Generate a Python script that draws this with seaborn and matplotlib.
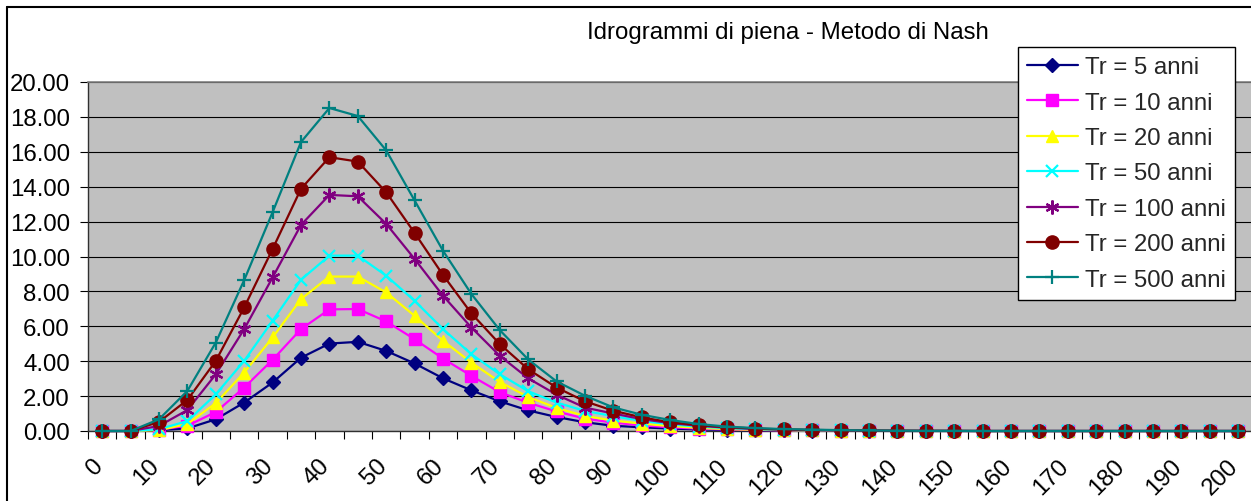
import matplotlib
matplotlib.use("Agg")
import matplotlib.pyplot as plt
import matplotlib.transforms as mtransforms
import seaborn as sns
import pandas as pd
from matplotlib.lines import Line2D
from matplotlib.ticker import FixedLocator, FixedFormatter

# ---------------- data ----------------
times = [0, 5, 10, 15, 20, 25, 30, 35, 40, 45,
         50, 55, 60, 65, 70, 75, 80, 85, 90, 95,
         100, 105, 110, 115, 120, 125, 130, 135, 140, 145,
         150, 155, 160, 165, 170, 175, 180, 185, 190, 195,
         200]

tick_values = [0, 10, 20, 30, 40, 50, 60, 70, 80, 90, 100,
               110, 120, 130, 140, 150, 160, 170, 180, 190, 200]
tick_labels = ["0", "10", "20", "30", "40", "50", "60", "70", "80", "90", "100",
               "110", "120", "130", "140", "150", "160", "170", "180", "190", "200"]

q_5 = [0.00, 0.00, 0.05, 0.15, 0.67, 1.63, 2.78, 4.20, 5.01, 5.11,
       4.59, 3.87, 3.02, 2.33, 1.70, 1.18, 0.80, 0.50, 0.30, 0.21,
       0.14, 0.09, 0.06, 0.04, 0.03, 0.02, 0.01, 0.01, 0.00, 0.00,
       0.00, 0.00, 0.00, 0.00, 0.00, 0.00, 0.00, 0.00, 0.00, 0.00,
       0.00]
q_10 = [0.00, 0.00, 0.08, 0.30, 1.09, 2.49, 4.08, 5.84, 6.97, 6.99,
        6.28, 5.26, 4.15, 3.16, 2.22, 1.62, 1.12, 0.71, 0.48, 0.32,
        0.21, 0.14, 0.09, 0.06, 0.04, 0.03, 0.02, 0.01, 0.01, 0.00,
        0.00, 0.00, 0.00, 0.00, 0.00, 0.00, 0.00, 0.00, 0.00, 0.00,
        0.00]
q_20 = [0.00, 0.00, 0.05, 0.40, 1.60, 3.35, 5.36, 7.56, 8.85, 8.85,
        7.94, 6.60, 5.17, 3.92, 2.81, 1.95, 1.32, 0.86, 0.60, 0.42,
        0.28, 0.18, 0.11, 0.07, 0.05, 0.03, 0.02, 0.01, 0.01, 0.00,
        0.00, 0.00, 0.00, 0.00, 0.00, 0.00, 0.00, 0.00, 0.00, 0.00,
        0.00]
q_50 = [0.00, 0.00, 0.10, 0.57, 2.10, 4.02, 6.32, 8.67, 10.05, 10.05,
        8.90, 7.46, 5.84, 4.40, 3.25, 2.28, 1.63, 1.15, 0.85, 0.58,
        0.38, 0.25, 0.16, 0.10, 0.07, 0.04, 0.03, 0.02, 0.01, 0.00,
        0.00, 0.00, 0.00, 0.00, 0.00, 0.00, 0.00, 0.00, 0.00, 0.00,
        0.00]
q_100 = [0.00, 0.00, 0.29, 1.20, 3.25, 5.84, 8.80, 11.81, 13.53, 13.45,
         11.87, 9.86, 7.75, 5.93, 4.31, 3.02, 2.08, 1.34, 1.00, 0.68,
         0.45, 0.30, 0.19, 0.12, 0.08, 0.05, 0.03, 0.02, 0.01, 0.01,
         0.00, 0.00, 0.00, 0.00, 0.00, 0.00, 0.00, 0.00, 0.00, 0.00,
         0.00]
q_200 = [0.00, 0.00, 0.52, 1.78, 4.02, 7.08, 10.43, 13.88, 15.69, 15.44,
         13.68, 11.35, 8.94, 6.74, 4.98, 3.54, 2.49, 1.70, 1.16, 0.78,
         0.50, 0.34, 0.22, 0.14, 0.09, 0.06, 0.04, 0.03, 0.02, 0.01,
         0.01, 0.00, 0.00, 0.00, 0.00, 0.00, 0.00, 0.00, 0.00, 0.00,
         0.00]
q_500 = [0.00, 0.00, 0.67, 2.30, 5.07, 8.65, 12.54, 16.56, 18.51, 18.05,
         16.08, 13.21, 10.33, 7.85, 5.78, 4.10, 2.84, 2.02, 1.35, 0.93,
         0.63, 0.40, 0.25, 0.17, 0.11, 0.08, 0.05, 0.03, 0.02, 0.01,
         0.01, 0.00, 0.00, 0.00, 0.00, 0.00, 0.00, 0.00, 0.00, 0.00,
         0.00]

series_labels = ["Tr = 5 anni", "Tr = 10 anni", "Tr = 20 anni", "Tr = 50 anni",
                 "Tr = 100 anni", "Tr = 200 anni", "Tr = 500 anni"]
series_values = [q_5, q_10, q_20, q_50, q_100, q_200, q_500]

colors = ["#000080", "#FF00FF", "#FFFF00", "#00FFFF", "#800080", "#800000", "#008080"]
markers = ["D", "s", "^", "x", (6, 2, 0), "o", "+"]
msizes = [7.0, 8.5, 9.0, 8.5, 10.0, 9.5, 10.0]
mews = [1.0, 1.0, 1.0, 1.6, 1.6, 1.0, 1.6]

title = "Idrogrammi di piena - Metodo di Nash"

# ---------------- figure ----------------
sns.set_theme(style="white")
plt.rcParams["font.family"] = ["Liberation Sans", "DejaVu Sans"]
FS = 17.3

W, H = 1251, 502
fig = plt.figure(figsize=(W / 100, H / 100), dpi=100)
fig.patch.set_facecolor("white")

px_per5 = 28.4
x_left = 88
x_right = x_left + 41 * px_per5
y_top, y_bot = 83, 432
ax = fig.add_axes([x_left / W, (H - y_bot) / H, (x_right - x_left) / W, (y_bot - y_top) / H])
ax.set_facecolor("#C0C0C0")

rows = []
for lab, vals in zip(series_labels, series_values):
    for t, v in zip(times, vals):
        rows.append({"t": t, "Q": v, "serie": lab})
df = pd.DataFrame(rows)

handles = []
for lab, c, m, ms, mew in zip(series_labels, colors, markers, msizes, mews):
    sub = df[df["serie"] == lab]
    sns.lineplot(data=sub, x="t", y="Q", ax=ax, color=c, lw=1.6,
                 marker=m, markersize=ms, markeredgecolor=c, markerfacecolor=c,
                 markeredgewidth=mew, errorbar=None, legend=False, zorder=3,
                 clip_on=False)
    handles.append(Line2D([0], [0], color=c, lw=1.6, marker=m, markersize=ms,
                          markeredgecolor=c, markerfacecolor=c, markeredgewidth=mew))

ax.set_xlim(-2.5, 202.5)
ax.set_ylim(0, 20)
ax.set_xlabel("")
ax.set_ylabel("")

# y axis
ax.yaxis.set_major_locator(FixedLocator([0, 2, 4, 6, 8, 10, 12, 14, 16, 18, 20]))
ax.yaxis.set_major_formatter(FixedFormatter(["%.2f" % v for v in [0, 2, 4, 6, 8, 10, 12, 14, 16, 18, 20]]))
ax.tick_params(axis="y", which="major", direction="out", length=6, width=0.8,
               color="black", pad=7, labelsize=FS, labelcolor="black", left=True)
ax.grid(axis="y", color="black", lw=0.8, zorder=1)
ax.set_axisbelow(True)

# x axis: labels every 10, tick marks between categories
ax.xaxis.set_major_locator(FixedLocator(tick_values))
ax.xaxis.set_major_formatter(FixedFormatter(tick_labels))
ax.xaxis.set_minor_locator(FixedLocator([t - 2.5 for t in times]))
ax.tick_params(axis="x", which="major", length=0, pad=22.5, labelsize=FS,
               labelcolor="black", bottom=True)
ax.tick_params(axis="x", which="minor", direction="out", length=5.5, width=0.8,
               color="black", bottom=True)
shift = mtransforms.ScaledTranslation(-3 / 100, 0, fig.dpi_scale_trans)
for lbl in ax.get_xticklabels():
    lbl.set_rotation(45)
    lbl.set_ha("right")
    lbl.set_va("center")
    lbl.set_rotation_mode("anchor")
    lbl.set_transform(lbl.get_transform() + shift)

for side in ["left", "bottom"]:
    ax.spines[side].set_color("#303030")
    ax.spines[side].set_linewidth(1.0)
ax.spines["top"].set_color("#808080")
ax.spines["top"].set_linewidth(1.2)
ax.spines["right"].set_visible(False)

# title
fig.text(788 / W, 1 - 33 / H, title, ha="center", va="center", fontsize=FS, color="black")

# legend
leg = fig.legend(handles, series_labels, loc="upper left",
                 bbox_to_anchor=(1018 / W, 1 - 48 / H), bbox_transform=fig.transFigure,
                 frameon=True, fancybox=False, framealpha=1, facecolor="white",
                 edgecolor="black", borderpad=0.38, labelspacing=0.56,
                 handlelength=2.1, handletextpad=0.3, borderaxespad=0,
                 numpoints=1, fontsize=FS)
leg.get_frame().set_linewidth(1.0)

# outer chart border (cropped)
fig.add_artist(Line2D([7 / W, 1.0], [1 - 8 / H, 1 - 8 / H], transform=fig.transFigure,
                      color="black", lw=1.5))
fig.add_artist(Line2D([7 / W, 7 / W], [0.0, 1 - 8 / H], transform=fig.transFigure,
                      color="black", lw=1.5))

fig.savefig("out.png", dpi=100, facecolor="white")
